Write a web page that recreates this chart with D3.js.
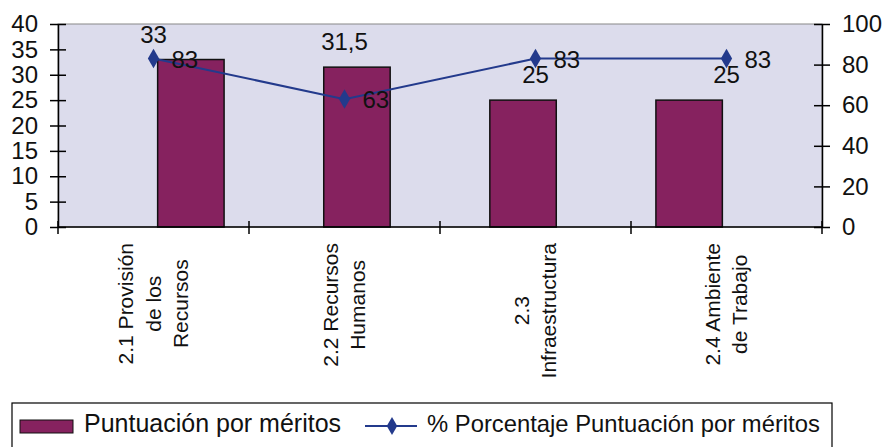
<!DOCTYPE html>
<html>
<head>
<meta charset="utf-8">
<script src="https://cdn.jsdelivr.net/npm/d3@7"></script>
<style>
  body { margin: 0; background: #fff; }
  svg text { font-family: "Liberation Sans", Arial, sans-serif; fill: #111; }
</style>
</head>
<body>
<svg id="chart" width="887" height="447"></svg>
<script>
// data
var categories = [
  ["2.1 Provisión", "de los", "Recursos"],
  ["2.2 Recursos", "Humanos"],
  ["2.3", "Infraestructura"],
  ["2.4 Ambiente", "de Trabajo"]
];
var puntuacion = [33, 31.5, 25, 25];
var porcentaje = [83, 63, 83, 83];
var leftTicks = [0, 5, 10, 15, 20, 25, 30, 35, 40];
var rightTicks = [0, 20, 40, 60, 80, 100];

var margin = {left: 58, right: 65, top: 24, bottom: 220},
    width = 887 - margin.left - margin.right,
    height = 447 - margin.top - margin.bottom,
    barColor = "#86225f",
    lineColor = "#233a8c";

var svg = d3.select("#chart");
var g = svg.append("g").attr("transform", "translate(" + margin.left + "," + margin.top + ")");

var x = d3.scaleBand().domain(d3.range(categories.length)).range([0, width]).padding(0.6);
var xOuter = d3.scaleBand().domain(d3.range(categories.length)).range([0, width]);
var yL = d3.scaleLinear().domain([0, 40]).range([height, 0]);
var yR = d3.scaleLinear().domain([0, 100]).range([height, 0]);

// plot background
g.append("rect")
  .attr("width", width).attr("height", height)
  .style("fill", "#dcdcec")
  .style("stroke", "#888").style("stroke-width", 1);

// bars
g.selectAll(".bar").data(puntuacion).enter().append("rect")
  .attr("x", function (d, i) { return x(i); })
  .attr("y", function (d) { return yL(d); })
  .attr("width", x.bandwidth())
  .attr("height", function (d) { return height - yL(d); })
  .style("fill", barColor)
  .style("stroke", "#111").style("stroke-width", 1.5);

// line
var cx = function (i) { return xOuter(i) + xOuter.bandwidth() / 2; };
var line = d3.line()
  .x(function (d, i) { return cx(i); })
  .y(function (d) { return yR(d); });
g.append("path").datum(porcentaje)
  .attr("d", line)
  .style("fill", "none").style("stroke", lineColor).style("stroke-width", 2);

g.selectAll(".mk").data(porcentaje).enter().append("path")
  .attr("d", d3.symbol().type(d3.symbolDiamond).size(110))
  .attr("transform", function (d, i) { return "translate(" + cx(i) + "," + yR(d) + ")"; })
  .style("fill", lineColor);

// bar labels
g.selectAll(".bl").data(puntuacion).enter().append("text")
  .attr("x", function (d, i) { return cx(i); })
  .attr("y", function (d) { return yL(d) - 17; })
  .attr("text-anchor", "middle")
  .style("font-size", "24px")
  .text(function (d) { return String(d).replace(".", ","); });

// line labels
g.selectAll(".ll").data(porcentaje).enter().append("text")
  .attr("x", function (d, i) { return cx(i) + 18; })
  .attr("y", function (d) { return yR(d) + 9; })
  .style("font-size", "24px")
  .text(function (d) { return d; });

// axes
var axisL = d3.axisLeft(yL).tickValues(leftTicks).tickSizeInner(8).tickSizeOuter(0).tickPadding(12);
var gl = g.append("g").call(axisL);
gl.selectAll("line").attr("x2", 8).attr("x1", -8);
gl.selectAll("text").style("font-size", "24px");

var axisR = d3.axisRight(yR).tickValues(rightTicks).tickSizeInner(8).tickSizeOuter(0).tickPadding(12);
var gr = g.append("g").attr("transform", "translate(" + width + ",0)").call(axisR);
gr.selectAll("line").attr("x1", -8);
gr.selectAll("text").style("font-size", "24px");

var gb = g.append("g").attr("transform", "translate(0," + height + ")");
gb.append("line").attr("x1", 0).attr("x2", width).style("stroke", "#000").style("stroke-width", 1.5);
gb.selectAll(".tk").data(d3.range(categories.length + 1)).enter().append("line")
  .attr("x1", function (d) { return d * xOuter.bandwidth(); })
  .attr("x2", function (d) { return d * xOuter.bandwidth(); })
  .attr("y1", -6).attr("y2", 7)
  .style("stroke", "#000").style("stroke-width", 1.5);
[gl, gr].forEach(function (a) {
  a.selectAll("path, line").style("stroke", "#000").style("stroke-width", 1.5);
});

// category labels (rotated, lines centred, block top at fixed y)
var lineH = 27.5, labTop = margin.top + height + 16;
categories.forEach(function (lines, i) {
  var t = svg.append("text")
    .attr("text-anchor", "middle")
    .style("font-size", "21px");
  lines.forEach(function (s, j) {
    t.append("tspan").attr("x", 0).attr("dy", j === 0 ? 0 : lineH).text(s);
  });
  var maxLen = d3.max(t.selectAll("tspan").nodes(), function (n) { return n.getComputedTextLength(); });
  var off = (lines.length - 1) * lineH / 2;
  var px = margin.left + cx(i) - off + 7;
  var py = labTop + maxLen / 2;
  t.attr("transform", "translate(" + px + "," + py + ") rotate(-90)");
});

// legend
var lg = svg.append("g");
lg.append("rect").attr("x", 12).attr("y", 403).attr("width", 820).attr("height", 50)
  .style("fill", "#fff").style("stroke", "#000").style("stroke-width", 1.2);
lg.append("rect").attr("x", 20).attr("y", 420).attr("width", 53).attr("height", 13)
  .style("fill", barColor).style("stroke", "#111");
lg.append("text").attr("x", 84).attr("y", 432).style("font-size", "25px").text("Puntuación por méritos");
lg.append("line").attr("x1", 365).attr("x2", 417).attr("y1", 426).attr("y2", 426)
  .style("stroke", lineColor).style("stroke-width", 2);
lg.append("path").attr("d", d3.symbol().type(d3.symbolDiamond).size(95))
  .attr("transform", "translate(392,426)").style("fill", lineColor);
lg.append("text").attr("x", 427).attr("y", 432).style("font-size", "23.8px").text("% Porcentaje Puntuación por méritos");
</script>
</body>
</html>
